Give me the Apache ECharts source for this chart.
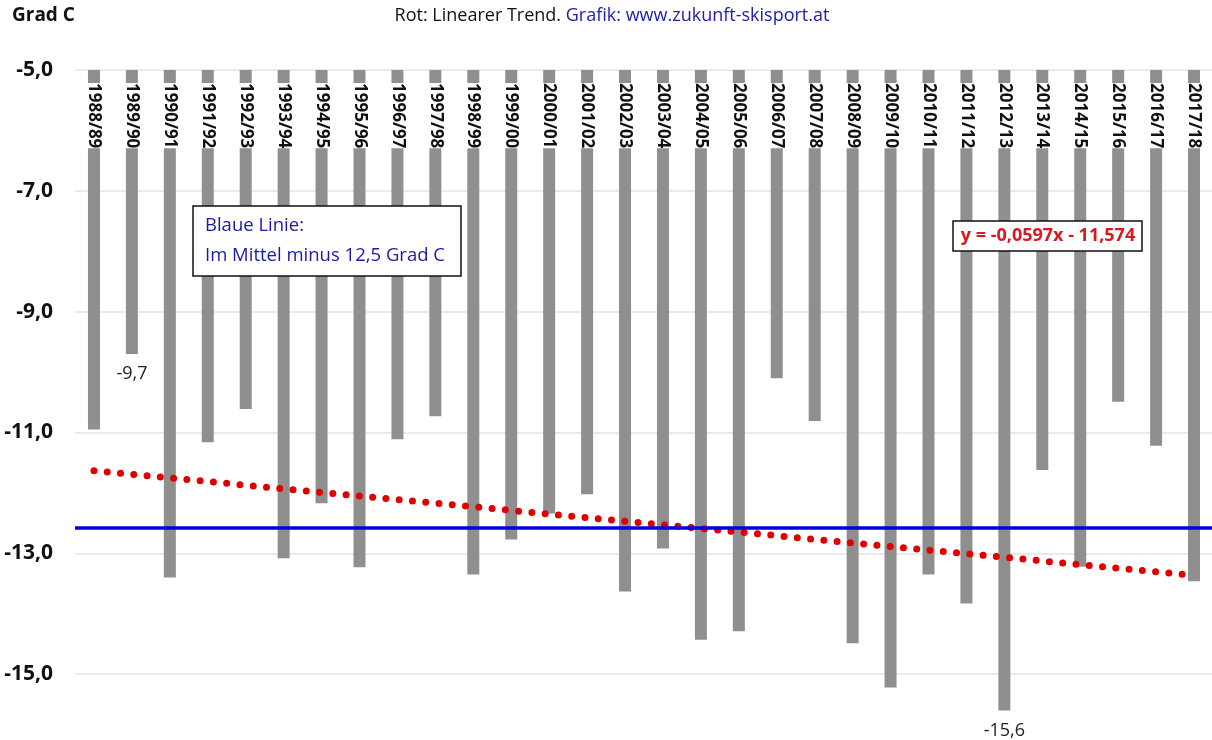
<!DOCTYPE html>
<html>
<head>
<meta charset="utf-8">
<script src="https://cdn.jsdelivr.net/npm/echarts@6/dist/echarts.min.js"></script>
<style>html,body{margin:0;padding:0;background:#fff;}#c{width:1212px;height:740px;}</style>
</head>
<body>
<div id="c"></div>
<script>
const categories = ['1988/89','1989/90','1990/91','1991/92','1992/93','1993/94','1994/95','1995/96','1996/97','1997/98',
  '1998/99','1999/00','2000/01','2001/02','2002/03','2003/04','2004/05','2005/06','2006/07','2007/08',
  '2008/09','2009/10','2010/11','2011/12','2012/13','2013/14','2014/15','2015/16','2016/17','2017/18'];
const values = [-10.95,-9.7,-13.4,-11.16,-10.61,-13.08,-12.17,-13.23,-11.11,-10.73,
  -13.35,-12.77,-12.34,-12.02,-13.63,-12.92,-14.43,-14.29,-10.1,-10.81,
  -14.49,-15.22,-13.35,-13.83,-15.6,-11.62,-13.22,-10.49,-11.22,-13.46];
const labelledIdx = [1, 24];
const meanLine = -12.58;
const trendStart = -11.633;
const trendEnd = -13.365;
const yTicks = { min: -17, max: -5, interval: 2 };

const fmt = v => v.toFixed(1).replace('.', ',');
const FONT = '"Open Sans", "Noto Sans", sans-serif';

const barData = values.map((v, i) => labelledIdx.includes(i)
  ? { value: v, label: { show: true } } : v);

const chart = echarts.init(document.getElementById('c'), null, { renderer: 'canvas' });
chart.setOption({
  animation: false,
  backgroundColor: '#fff',
  grid: { left: 75, width: 1138, top: 70, height: 725, containLabel: false, outerBoundsMode: 'none' },
  xAxis: {
    type: 'category', position: 'top', data: categories, z: 10,
    axisLine: { show: false }, axisTick: { show: false },
    axisLabel: {
      inside: true, rotate: 90, margin: 13, interval: 0,
      fontFamily: FONT, fontWeight: 'bold', fontSize: 17, color: '#111',
      backgroundColor: '#fff', padding: [0, 0]
    }
  },
  yAxis: {
    type: 'value', min: yTicks.min, max: yTicks.max, interval: yTicks.interval,
    axisLine: { show: false }, axisTick: { show: false },
    axisLabel: { formatter: fmt, fontFamily: FONT, fontWeight: 'bold', fontSize: 21, color: '#111', margin: 22 },
    splitLine: { lineStyle: { color: '#e3e3e3', width: 1.5 } }
  },
  series: [
    {
      type: 'bar', data: barData, barWidth: 12, clip: true,
      itemStyle: { color: '#8f8f8f' },
      label: { show: false, position: 'bottom', distance: 11, formatter: p => fmt(p.value),
        fontFamily: FONT, fontSize: 18, color: '#222' },
      markLine: {
        silent: true, symbol: 'none', animation: false,
        label: { show: false },
        lineStyle: { color: '#0000dd', width: 3.5, type: 'solid' },
        data: [{ yAxis: meanLine }]
      }
    },
    {
      type: 'line', data: [[categories[0], trendStart], [categories[categories.length - 1], trendEnd]],
      symbol: 'none', z: 4,
      lineStyle: { color: '#e00000', width: 7, type: [0, 13.33], cap: 'round' }
    }
  ],
  graphic: [
    { type: 'text', left: 12, top: 6, z: 100,
      style: { text: 'Grad C', font: 'bold 19px ' + FONT, fill: '#111' } },
    { type: 'text', x: 612, y: 16, z: 100,
      style: { text: 'Rot: Linearer Trend. {b|Grafik: www.zukunft-skisport.at}',
        font: '18px ' + FONT, fill: '#111', align: 'center', verticalAlign: 'middle',
        rich: { b: { fill: '#2020b0', font: '18px ' + FONT } } } },
    { type: 'rect', z: 100, shape: { x: 193, y: 206, width: 268, height: 70 },
      style: { fill: '#fff', stroke: '#111', lineWidth: 1.5 } },
    { type: 'text', z: 101, x: 205, y: 226,
      style: { text: 'Blaue Linie:', font: '18.5px ' + FONT, fill: '#1a1aa8', verticalAlign: 'middle' } },
    { type: 'text', z: 101, x: 205, y: 256,
      style: { text: 'Im Mittel minus 12,5 Grad C', font: '18.5px ' + FONT, fill: '#1a1aa8', verticalAlign: 'middle' } },
    { type: 'rect', z: 100, shape: { x: 953, y: 221, width: 189, height: 30 },
      style: { fill: '#fff', stroke: '#111', lineWidth: 1.5 } },
    { type: 'text', z: 101, x: 1048, y: 236,
      style: { text: 'y = -0,0597x - 11,574', font: 'bold 18px ' + FONT, fill: '#d71920', align: 'center', verticalAlign: 'middle' } }
  ]
});
</script>
</body>
</html>
